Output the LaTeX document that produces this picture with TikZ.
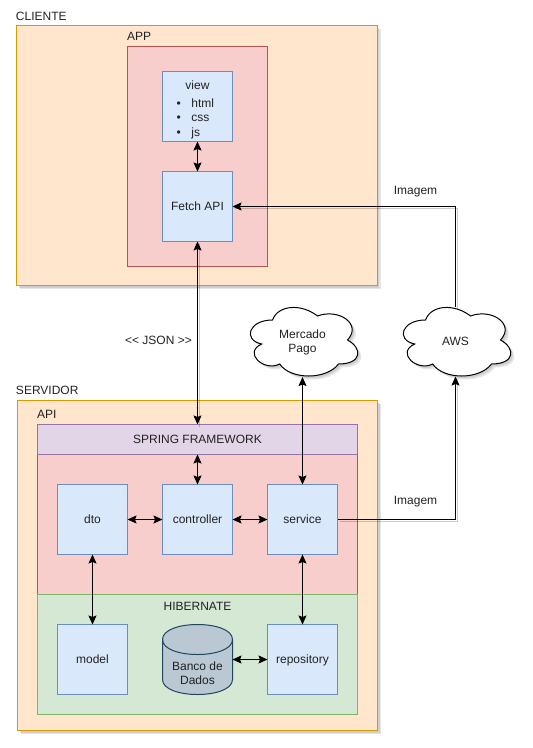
\documentclass[tikz,border=0pt]{standalone}
\usepackage{fontspec}
\setmainfont{Liberation Sans}
\usetikzlibrary{arrows.meta}
\definecolor{orF}{HTML}{FFE6CC}\definecolor{orD}{HTML}{D79B00}
\definecolor{reF}{HTML}{F8CECC}\definecolor{reD}{HTML}{B85450}
\definecolor{blF}{HTML}{DAE8FC}\definecolor{blD}{HTML}{6C8EBF}
\definecolor{puF}{HTML}{E1D5E7}\definecolor{puD}{HTML}{9673A6}
\definecolor{grF}{HTML}{D5E8D4}\definecolor{grD}{HTML}{82B366}
\definecolor{dbF}{HTML}{BAC8D3}\definecolor{dbD}{HTML}{23445D}
\definecolor{txt}{HTML}{222222}
\tikzset{
  softshadow/.style={
    preaction={fill=black,opacity=.10,transform canvas={shift={(2pt,-2pt)}}},
    preaction={fill=black,opacity=.10,transform canvas={shift={(3.5pt,-3.5pt)}}}},
  every node/.style={font=\fontsize{12}{14.4}\selectfont,text=txt,inner sep=0pt,outer sep=0pt,text height=8.5pt,text depth=0pt},
  area/.style={draw,line width=1pt,rectangle},
  orangebox/.style={area,fill=orF,draw=orD,softshadow},
  redbox/.style={area,fill=reF,draw=reD},
  purplebox/.style={area,fill=puF,draw=puD},
  greenbox/.style={area,fill=grF,draw=grD},
  comp/.style={area,fill=blF,draw=blD,minimum width=70pt,minimum height=70pt},
  ghost/.style={rectangle,minimum width=70pt,minimum height=70pt},
  txtlabel/.style={anchor=west},
  cloudline/.style={draw=black,fill=white,line width=1pt,softshadow},
  dbline/.style={draw=dbD,fill=dbF,line width=1pt},
  tipa/.tip={Stealth[length=9pt,width=8pt,inset=1.5pt]},
  conn/.style={draw=black,line width=1pt},
  both/.style={conn,tipa-tipa},
  one/.style={conn,-tipa},
  lineshadow/.style={preaction={draw=black,opacity=.2,line width=1.5pt,-,transform canvas={shift={(2pt,-2pt)}}}},
}
\newcommand{\cloudpath}[2]{%
  \begin{scope}[shift={(#1,#2)},x=120pt,y=-80pt]
    \path[cloudline] (.25,.25) .. controls (.05,.25) and (0,.5) .. (.16,.55)
      .. controls (0,.66) and (.18,.9) .. (.31,.8)
      .. controls (.4,1) and (.7,1) .. (.8,.8)
      .. controls (1,.8) and (1,.6) .. (.875,.5)
      .. controls (1,.3) and (.8,.1) .. (.625,.2)
      .. controls (.5,.05) and (.3,.05) .. (.25,.25) -- cycle;
  \end{scope}}
\begin{document}
\begin{tikzpicture}[x=1pt,y=-1pt]
\useasboundingbox (0,0) rectangle (533,748);
% CLIENTE
\node[orangebox,minimum width=360.5pt,minimum height=260pt] (cliente) at (196.75,155.5) {};
\node[txtlabel] (lcliente) at (16,16) {CLIENTE};
\node[redbox,minimum width=140pt,minimum height=220pt] (app) at (197.5,156.5) {};
\node[txtlabel] (lapp) at (127,36) {APP};
\node[comp] (view) at (197.5,106.5) {};
\node (lview) at (197.5,85.5) {view};
\node[anchor=west,align=left] (lview2) at (176.5,132) {\makebox[15pt][l]{•}html\\\makebox[15pt][l]{•}css\\\makebox[15pt][l]{•}js};
\node[comp] (fetch) at (197.5,206.5) {Fetch API};
% SERVIDOR
\node[orangebox,minimum width=360pt,minimum height=330pt] (servidor) at (197.5,565.5) {};
\node[txtlabel] (lserv) at (16,390) {SERVIDOR};
\node[txtlabel] (lapi) at (37,414) {API};
\node[redbox,minimum width=320pt,minimum height=140pt] (core) at (197.5,524.5) {};
\node[purplebox,minimum width=320pt,minimum height=30pt] (spring) at (197.5,439.5) {SPRING FRAMEWORK};
\node[greenbox,minimum width=320pt,minimum height=120pt] (hib) at (197.5,654.5) {};
\node (lhib) at (197.5,606.5) {HIBERNATE};
\node[comp] (dto) at (92.5,519.5) {dto};
\node[comp] (controller) at (197.5,519.5) {controller};
\node[comp] (service) at (302.5,519.5) {service};
\node[comp] (model) at (92.5,659.5) {model};
\node[comp] (repository) at (302.5,659.5) {repository};
% Banco de Dados
\path[dbline] (162.5,639.5) .. controls (162.5,619.5) and (232.5,619.5) .. (232.5,639.5)
  -- (232.5,679.5) .. controls (232.5,699.5) and (162.5,699.5) .. (162.5,679.5) -- cycle;
\path[dbline,fill=none] (162.5,639.5) .. controls (162.5,659.5) and (232.5,659.5) .. (232.5,639.5);
\node[ghost] (db) at (197.5,659.5) {};
\node[align=center] (ldb) at (197.5,680.5) {Banco de\\Dados};
% Clouds
\cloudpath{242.5}{300}
\node[rectangle,minimum width=108pt,minimum height=70pt] (mp) at (302.5,342) {};
\node[align=center] (lmp) at (302.5,348.5) {Mercado\\Pago};
\cloudpath{395.5}{300}
\node[rectangle,minimum width=108pt,minimum height=70pt] (aws) at (455.5,341.5) {AWS};
% Connectors
\draw[both] (view) -- (fetch);
\draw[both,lineshadow] (fetch) -- (spring);
\draw[both] (spring) -- (controller);
\draw[both] (dto) -- (controller);
\draw[both] (controller) -- (service);
\draw[both] (mp) -- (service);
\draw[both] (dto) -- (model);
\draw[both] (service) -- (repository);
\draw[both] (db) -- (repository);
\draw[one,lineshadow] (aws.north) |- (fetch.east);
\draw[one,lineshadow] (service.east) -| (aws.south);
% Labels
\node (limg1) at (415.5,190.5) {Imagem};
\node (limg2) at (415.5,500.5) {Imagem};
\node (ljson) at (158.5,340) {<{}< JSON >{}>};
\end{tikzpicture}
\end{document}
